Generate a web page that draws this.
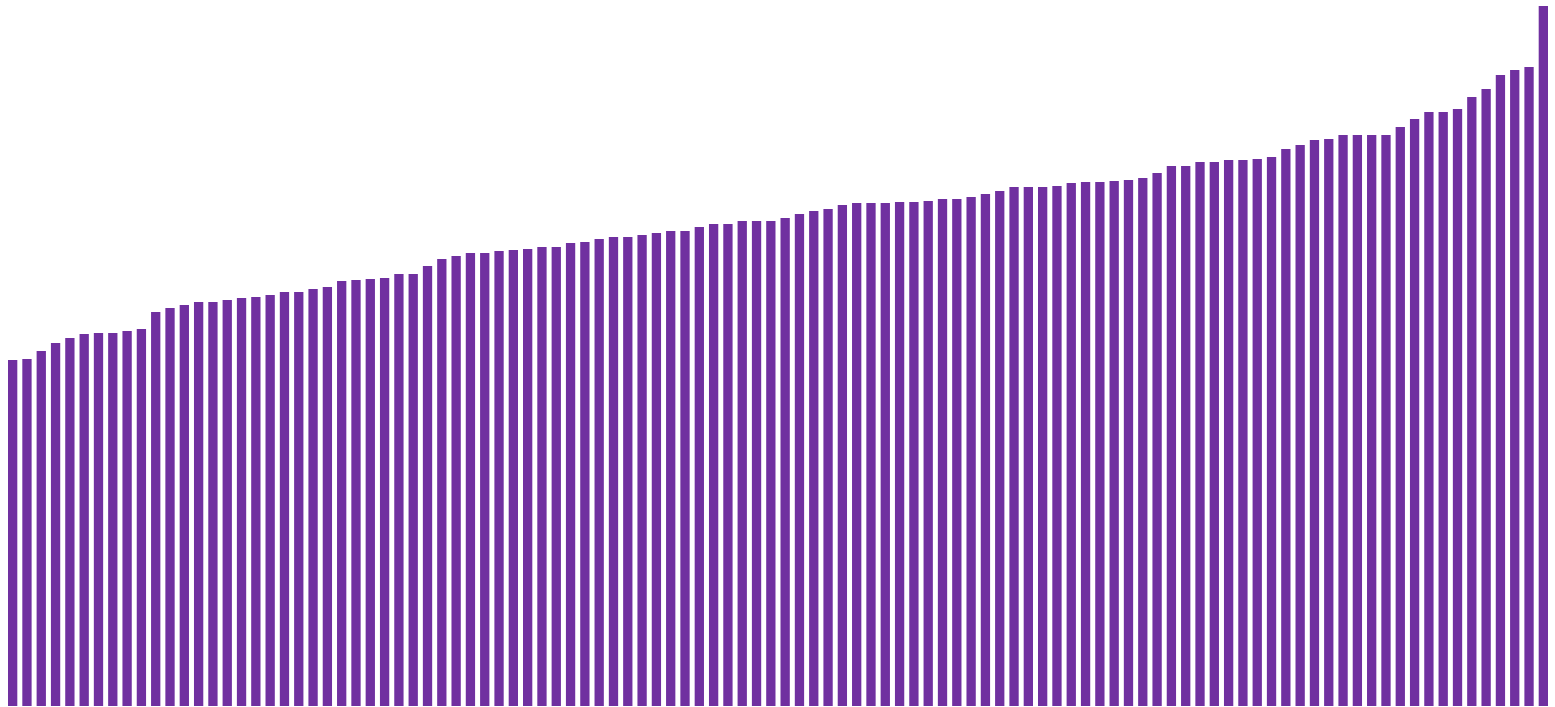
<!DOCTYPE html>
<html>
<head>
<meta charset="utf-8">
<script src="https://cdn.jsdelivr.net/npm/d3@7"></script>
<style>
    html, body {
        margin: 0;
        padding: 0;
        background: #ffffff;
        overflow: hidden;
    }
</style>
</head>
<body>
<div id="chart"></div>
<script>
const width = 1555;
const height = 707;

// 値(昇順に並んだ棒の高さ)
const values = [
    346, 347, 355, 363, 368, 372, 373, 373, 375, 377,
    394, 398, 401, 404, 404, 406, 408, 409, 411, 414,
    414, 417, 419, 425, 426, 427, 428, 432, 432, 440,
    447, 450, 453, 453, 455, 456, 457, 459, 459, 463,
    464, 467, 469, 469, 471, 473, 475, 475, 479, 482,
    482, 485, 485, 485, 488, 492, 495, 497, 501, 503,
    503, 503, 504, 504, 505, 507, 507, 509, 512, 515,
    519, 519, 519, 520, 523, 524, 524, 525, 526, 528,
    533, 540, 540, 544, 544, 546, 546, 547, 549, 557,
    561, 566, 567, 571, 571, 571, 571, 579, 587, 594,
    594, 597, 609, 617, 631, 636, 639, 700
];

// カテゴリ(通し番号)
const categories = values.map(function (d, i) {
    return String(i + 1);
});

const svg = d3
    .select("#chart")
    .append("svg")
    .attr("width", width)
    .attr("height", height);

const x = d3
    .scaleBand()
    .domain(categories)
    .range([3, 1553])
    .padding(0.35);

const y = d3
    .scaleLinear()
    .domain([0, 700])
    .range([706, 6]);

svg
    .selectAll(".bar")
    .data(values)
    .enter()
    .append("rect")
    .attr("class", "bar")
    .attr("x", function (d, i) {
        return x(categories[i]);
    })
    .attr("y", function (d) {
        return y(d);
    })
    .attr("width", x.bandwidth())
    .attr("height", function (d) {
        return y(0) - y(d);
    })
    .attr("fill", "#7030a0");
</script>
</body>
</html>
